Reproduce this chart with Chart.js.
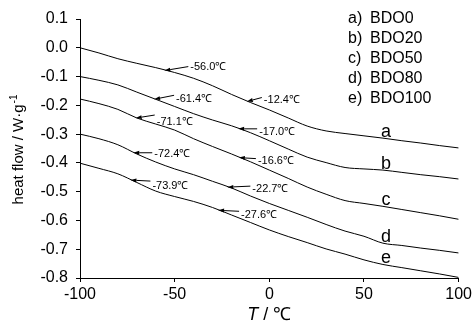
<!DOCTYPE html>
<html>
<head>
<meta charset="utf-8">
<script src="https://cdn.jsdelivr.net/npm/chart.js@4.4.1/dist/chart.umd.min.js"></script>
<style>
  html, body { margin: 0; padding: 0; background: #fff; }
  #wrap { width: 475px; height: 323px; }
</style>
</head>
<body>
<div id="wrap"><canvas id="c" width="475" height="323"></canvas></div>
<script>
// ---- data ----
const temps = [-100, -90, -80, -70, -60, -50, -40, -30, -20, -10, 0, 10, 20, 30, 40, 50, 60, 70, 80, 90, 100];
const seriesA = [0.000, -0.018, -0.038, -0.054, -0.069, -0.086, -0.106, -0.132, -0.162, -0.190, -0.216, -0.244, -0.272, -0.289, -0.298, -0.306, -0.314, -0.323, -0.331, -0.340, -0.348];
const seriesB = [-0.100, -0.113, -0.129, -0.154, -0.179, -0.204, -0.229, -0.251, -0.271, -0.295, -0.323, -0.352, -0.380, -0.399, -0.416, -0.421, -0.425, -0.433, -0.441, -0.448, -0.456];
const seriesC = [-0.178, -0.194, -0.214, -0.244, -0.265, -0.286, -0.316, -0.343, -0.369, -0.396, -0.425, -0.454, -0.484, -0.509, -0.531, -0.541, -0.551, -0.562, -0.573, -0.584, -0.596];
const seriesD = [-0.300, -0.316, -0.337, -0.369, -0.397, -0.421, -0.441, -0.464, -0.487, -0.515, -0.541, -0.565, -0.589, -0.614, -0.637, -0.655, -0.679, -0.687, -0.696, -0.704, -0.713];
const seriesE = [-0.401, -0.419, -0.438, -0.468, -0.498, -0.517, -0.534, -0.555, -0.581, -0.607, -0.633, -0.656, -0.677, -0.699, -0.717, -0.737, -0.753, -0.764, -0.775, -0.786, -0.798];
const curveLetters = ['a', 'b', 'c', 'd', 'e'];
const legendKeys = ['a)', 'b)', 'c)', 'd)', 'e)'];
const sampleNames = ['BDO0', 'BDO20', 'BDO50', 'BDO80', 'BDO100'];
// glass-transition annotations per curve
const tgValues = [[-56.0, -12.4], [-61.4, -17.0], [-71.1, -16.6], [-72.4, -22.7], [-73.9, -27.6]];
const tgLabels = [['-56.0℃', '-12.4℃'], ['-61.4℃', '-17.0℃'], ['-71.1℃', '-16.6℃'], ['-72.4℃', '-22.7℃'], ['-73.9℃', '-27.6℃']];
const xTicks = [-100, -50, 0, 50, 100];
const xTickLabels = ['-100', '-50', '0', '50', '100'];
const yTicks = [0.1, 0.0, -0.1, -0.2, -0.3, -0.4, -0.5, -0.6, -0.7, -0.8];
const yTickLabels = ['0.1', '0.0', '-0.1', '-0.2', '-0.3', '-0.4', '-0.5', '-0.6', '-0.7', '-0.8'];
const xTitleItalic = 'T';
const xTitleRest = ' / ℃';
const yTitleMain = 'heat flow / W·g';
const yTitleSup = '-1';

// ---- styling / layout (not data) ----
const FONT = '"Liberation Sans", Arial, sans-serif';
const allSeries = [seriesA, seriesB, seriesC, seriesD, seriesE];
// arrow offsets (px): [tailDx, tailDy, textDy]
const arrowStyle = [
  [[24, -4, 0], [15, -4, 2]],
  [[20, -4, 4], [19, 0, 3]],
  [[19, -3, 7], [17, 1, 2]],
  [[19, 0, 1], [23, -1, 3]],
  [[20, 1, 5], [21, 1, 4]]
];

function valueAt(series, t) {
  for (let i = 0; i < temps.length - 1; i++) {
    if (t >= temps[i] && t <= temps[i + 1]) {
      const f = (t - temps[i]) / (temps[i + 1] - temps[i]);
      return series[i] + f * (series[i + 1] - series[i]);
    }
  }
  return series[series.length - 1];
}

const decor = {
  id: 'decor',
  afterDatasetsDraw(chart) {
    const ctx = chart.ctx;
    const xs = chart.scales.x, ys = chart.scales.y;
    ctx.save();
    ctx.fillStyle = '#000';
    ctx.strokeStyle = '#000';

    // annotations with arrows
    ctx.font = '11px ' + FONT;
    ctx.textAlign = 'left';
    ctx.textBaseline = 'middle';
    ctx.lineWidth = 1;
    tgValues.forEach((pair, si) => {
      pair.forEach((tg, k) => {
        const hx = xs.getPixelForValue(tg) + 1;
        const hy = ys.getPixelForValue(valueAt(allSeries[si], tg)) + 1;
        const st = arrowStyle[si][k];
        const tx = hx + st[0], ty = hy + st[1];
        const ang = Math.atan2(hy - ty, hx - tx);
        const bx = hx - 6 * Math.cos(ang), by = hy - 6 * Math.sin(ang);
        ctx.beginPath();
        ctx.moveTo(tx, ty);
        ctx.lineTo(bx, by);
        ctx.stroke();
        ctx.beginPath();
        ctx.moveTo(hx, hy);
        ctx.lineTo(bx + 2 * Math.sin(ang), by - 2 * Math.cos(ang));
        ctx.lineTo(bx - 2 * Math.sin(ang), by + 2 * Math.cos(ang));
        ctx.closePath();
        ctx.fill();
        ctx.fillText(tgLabels[si][k], tx + 2, ty + st[2]);
      });
    });

    // curve letters
    ctx.font = '18px ' + FONT;
    ctx.textAlign = 'center';
    ctx.textBaseline = 'alphabetic';
    curveLetters.forEach((l, i) => {
      const px = xs.getPixelForValue(60) + 3;
      const py = ys.getPixelForValue(valueAt(allSeries[i], 60)) - 1;
      ctx.fillText(l, px, py);
    });

    // legend block
    ctx.font = '16px ' + FONT;
    ctx.textAlign = 'left';
    ctx.textBaseline = 'middle';
    legendKeys.forEach((k, i) => {
      const y = 19 + i * 19.8;
      ctx.fillText(k, 348, y);
      ctx.fillText(sampleNames[i], 370, y);
    });

    // x title
    ctx.textBaseline = 'alphabetic';
    ctx.font = 'italic 18px ' + FONT;
    const wT = ctx.measureText(xTitleItalic).width;
    ctx.font = '18px ' + FONT;
    const wR = ctx.measureText(xTitleRest).width;
    const cx = xs.getPixelForValue(0);
    const x0 = cx - (wT + wR) / 2;
    ctx.font = 'italic 18px ' + FONT;
    ctx.fillText(xTitleItalic, x0, 320);
    ctx.font = '18px ' + FONT;
    ctx.fillText(xTitleRest, x0 + wT, 320);

    // y title (rotated)
    ctx.save();
    ctx.translate(23, 150);
    ctx.rotate(-Math.PI / 2);
    ctx.font = '15px ' + FONT;
    const wM = ctx.measureText(yTitleMain).width;
    ctx.font = '10px ' + FONT;
    const wS = ctx.measureText(yTitleSup).width;
    const s0 = -(wM + wS) / 2;
    ctx.font = '15px ' + FONT;
    ctx.textAlign = 'left';
    ctx.fillText(yTitleMain, s0, 0);
    ctx.font = '10px ' + FONT;
    ctx.fillText(yTitleSup, s0 + wM + 1, -6);
    ctx.restore();

    ctx.restore();
  }
};

const palette = '#000';
new Chart(document.getElementById('c'), {
  type: 'line',
  data: {
    datasets: allSeries.map((s, i) => ({
      label: sampleNames[i],
      data: temps.map((t, j) => ({ x: t, y: s[j] })),
      borderColor: palette,
      borderWidth: 1,
      pointRadius: 0,
      cubicInterpolationMode: 'monotone',
      fill: false
    }))
  },
  options: {
    responsive: false,
    animation: false,
    devicePixelRatio: 1,
    layout: { padding: { top: 19, right: 16, left: 0, bottom: 0 } },
    plugins: { legend: { display: false }, tooltip: { enabled: false } },
    scales: {
      x: {
        type: 'linear', min: -100, max: 100,
        afterBuildTicks: s => { s.ticks = xTicks.map(v => ({ value: v })); },
        afterFit: s => { s.height = 45; },
        grid: { drawOnChartArea: false, drawTicks: true, tickLength: 4, color: '#000' },
        border: { display: true, color: '#000', width: 1 },
        ticks: {
          color: '#000', font: { family: FONT, size: 16 }, padding: 3, maxRotation: 0,
          callback: v => { const i = xTicks.findIndex(t => Math.abs(t - v) < 1e-9); return i >= 0 ? xTickLabels[i] : ''; }
        }
      },
      y: {
        type: 'linear', min: -0.8, max: 0.1,
        afterBuildTicks: s => { s.ticks = yTicks.map(v => ({ value: v })); },
        afterFit: s => { s.width = 80; },
        grid: { drawOnChartArea: false, drawTicks: true, tickLength: 4, color: '#000' },
        border: { display: true, color: '#000', width: 1 },
        ticks: {
          color: '#000', font: { family: FONT, size: 16 }, padding: 8,
          callback: v => { const i = yTicks.findIndex(t => Math.abs(t - v) < 1e-9); return i >= 0 ? yTickLabels[i] : ''; }
        }
      }
    }
  },
  plugins: [decor]
});
</script>
</body>
</html>
